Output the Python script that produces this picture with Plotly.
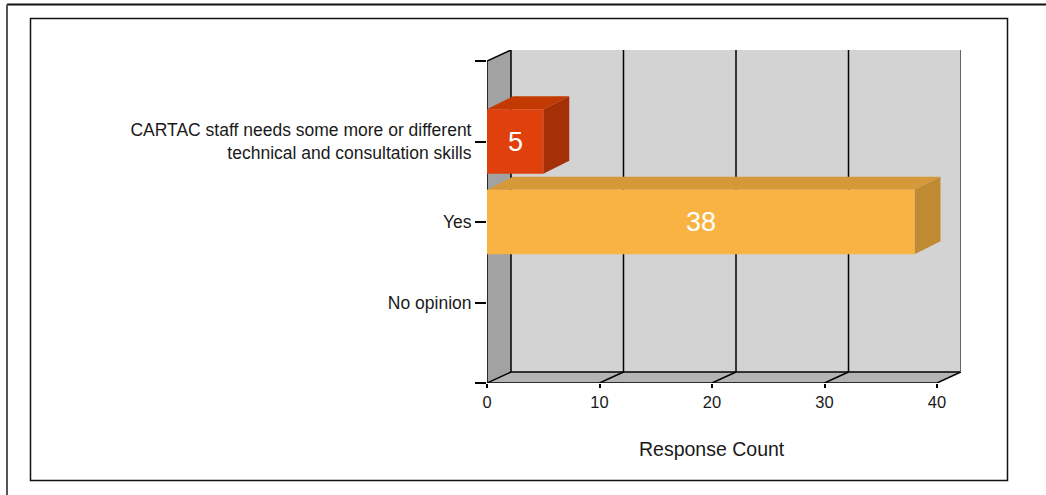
import plotly.graph_objects as go

# ---- data ----
categories = ["No opinion", "Yes",
              "CARTAC staff needs some more or different<br>technical and consultation skills"]
values = [0, 38, 5]
x_ticks = [0, 10, 20, 30, 40]
x_title = "Response Count"

# ---- styling ----
front_colors = ["#8fb0d8", "#F9B342", "#E0400C"]
top_colors = ["#7a98c0", "#D6993A", "#C23A02"]
side_colors = ["#6a86aa", "#C08A32", "#A52F06"]
FONT = "Liberation Sans, Arial, sans-serif"
NARROW = "Liberation Sans Narrow, Arial Narrow, Liberation Sans, Arial, sans-serif"

W, H = 1046, 495
L, T = 487, 50
PX_X = 11.25          # pixels per response unit
PX_Y = 80.5           # pixels per category slot
XMAX_V = x_ticks[-1]
NSLOT = len(categories) + 1
WALL_DX = 24 / PX_X
WALL_DY = 11 / PX_Y
BAR_DX = 26 / PX_X
BAR_DY = 13 / PX_Y
BAR_H = 0.40

plot_w = XMAX_V * PX_X + 24
plot_h = NSLOT * PX_Y + 11
R = W - L - plot_w
B = H - T - plot_h

fig = go.Figure()

def poly(xs, ys, fill, line_color=None, lw=0):
    fig.add_trace(go.Scatter(
        x=list(xs) + [xs[0]], y=list(ys) + [ys[0]], mode="lines", fill="toself",
        fillcolor=fill, line=dict(color=line_color or fill, width=lw),
        hoverinfo="skip", showlegend=False))

def seg(x0, y0, x1, y1, color="#000000", lw=1.5):
    fig.add_trace(go.Scatter(x=[x0, x1], y=[y0, y1], mode="lines",
                             line=dict(color=color, width=lw),
                             hoverinfo="skip", showlegend=False))

# back wall
poly([WALL_DX, XMAX_V + WALL_DX, XMAX_V + WALL_DX, WALL_DX],
     [WALL_DY, WALL_DY, NSLOT + WALL_DY, NSLOT + WALL_DY], "#D3D3D3")
# left wall
poly([0, 0, WALL_DX, WALL_DX], [0, NSLOT, NSLOT + WALL_DY, WALL_DY], "#A2A2A2")
# floor
poly([0, XMAX_V, XMAX_V + WALL_DX, WALL_DX], [0, 0, WALL_DY, WALL_DY], "#B4B4B4")

# grid lines on back wall and floor
for v in x_ticks:
    if v != x_ticks[0] and v != x_ticks[-1]:
        seg(v + WALL_DX, WALL_DY, v + WALL_DX, NSLOT + WALL_DY)
    seg(v, 0, v + WALL_DX, WALL_DY)
# wall edges
seg(WALL_DX, WALL_DY, WALL_DX, NSLOT + WALL_DY)
seg(WALL_DX, WALL_DY, XMAX_V + WALL_DX, WALL_DY)
seg(0, NSLOT, WALL_DX, NSLOT + WALL_DY)
seg(XMAX_V + WALL_DX, WALL_DY, XMAX_V + WALL_DX, NSLOT + WALL_DY, "#666666", 2)
# front axis lines
seg(0, 0, 0, NSLOT)
seg(0, 0, XMAX_V, 0)

# bars
for i, (cat, v) in enumerate(zip(categories, values)):
    if v <= 0:
        continue
    yc = i + 1
    y0, y1 = yc - BAR_H, yc + BAR_H
    # top face
    poly([0, v, v + BAR_DX, BAR_DX], [y1, y1, y1 + BAR_DY, y1 + BAR_DY], top_colors[i])
    # side face
    poly([v, v + BAR_DX, v + BAR_DX, v], [y0, y0 + BAR_DY, y1 + BAR_DY, y1], side_colors[i])
    # front face
    poly([0, v, v, 0], [y0, y0, y1, y1], front_colors[i])
    fig.add_annotation(x=v / 2, y=yc, text=str(v), showarrow=False,
                       font=dict(family=NARROW, size=27, color="#FFFFFF"),
                       xanchor="center", yanchor="middle")

# axis title
fig.add_annotation(x=XMAX_V / 2, y=0, xref="x", yref="paper", yshift=-66,
                   text=x_title, showarrow=False,
                   font=dict(family=FONT, size=19.5, color="#1a1a1a"),
                   xanchor="center", yanchor="middle")

# frames (decorative borders)
def px_to_paper_x(px):
    return (px - L) / plot_w

def px_to_paper_y(py):
    return (H - B - py) / plot_h

shapes = [
    dict(type="line", xref="paper", yref="paper",
         x0=px_to_paper_x(7), x1=px_to_paper_x(1060), y0=px_to_paper_y(4.5), y1=px_to_paper_y(4.5),
         line=dict(color="#111111", width=2)),
    dict(type="line", xref="paper", yref="paper",
         x0=px_to_paper_x(7), x1=px_to_paper_x(7), y0=px_to_paper_y(4.5), y1=px_to_paper_y(510),
         line=dict(color="#555555", width=2)),
    dict(type="rect", xref="paper", yref="paper",
         x0=px_to_paper_x(30.5), x1=px_to_paper_x(1007.5), y0=px_to_paper_y(480.5), y1=px_to_paper_y(18.5),
         line=dict(color="#111111", width=1.5)),
]

fig.update_layout(
    width=W, height=H, autosize=False,
    margin=dict(l=L, r=R, t=T, b=B, pad=0),
    paper_bgcolor="#FFFFFF", plot_bgcolor="rgba(0,0,0,0)",
    showlegend=False, shapes=shapes,
    font=dict(family=FONT, color="#1a1a1a"),
)
fig.update_xaxes(range=[0, XMAX_V + WALL_DX], tickvals=x_ticks,
                 ticktext=[str(t) for t in x_ticks],
                 ticks="outside", ticklen=4, tickwidth=1.5, tickcolor="#000000",
                 showgrid=False, zeroline=False, showline=False,
                 tickfont=dict(family=FONT, size=16.5, color="#1a1a1a"), fixedrange=True)
fig.update_yaxes(range=[0, NSLOT + WALL_DY],
                 tickvals=list(range(0, NSLOT + 1)),
                 ticktext=[""] + categories + [""],
                 ticks="outside", ticklen=11, tickwidth=1.5, tickcolor="#000000",
                 showgrid=False, zeroline=False, showline=False,
                 tickfont=dict(family=FONT, size=17.5, color="#1a1a1a"), fixedrange=True)

fig.write_html("out.html", config={"displayModeBar": False},
               post_script="document.body.style.margin='0';")
